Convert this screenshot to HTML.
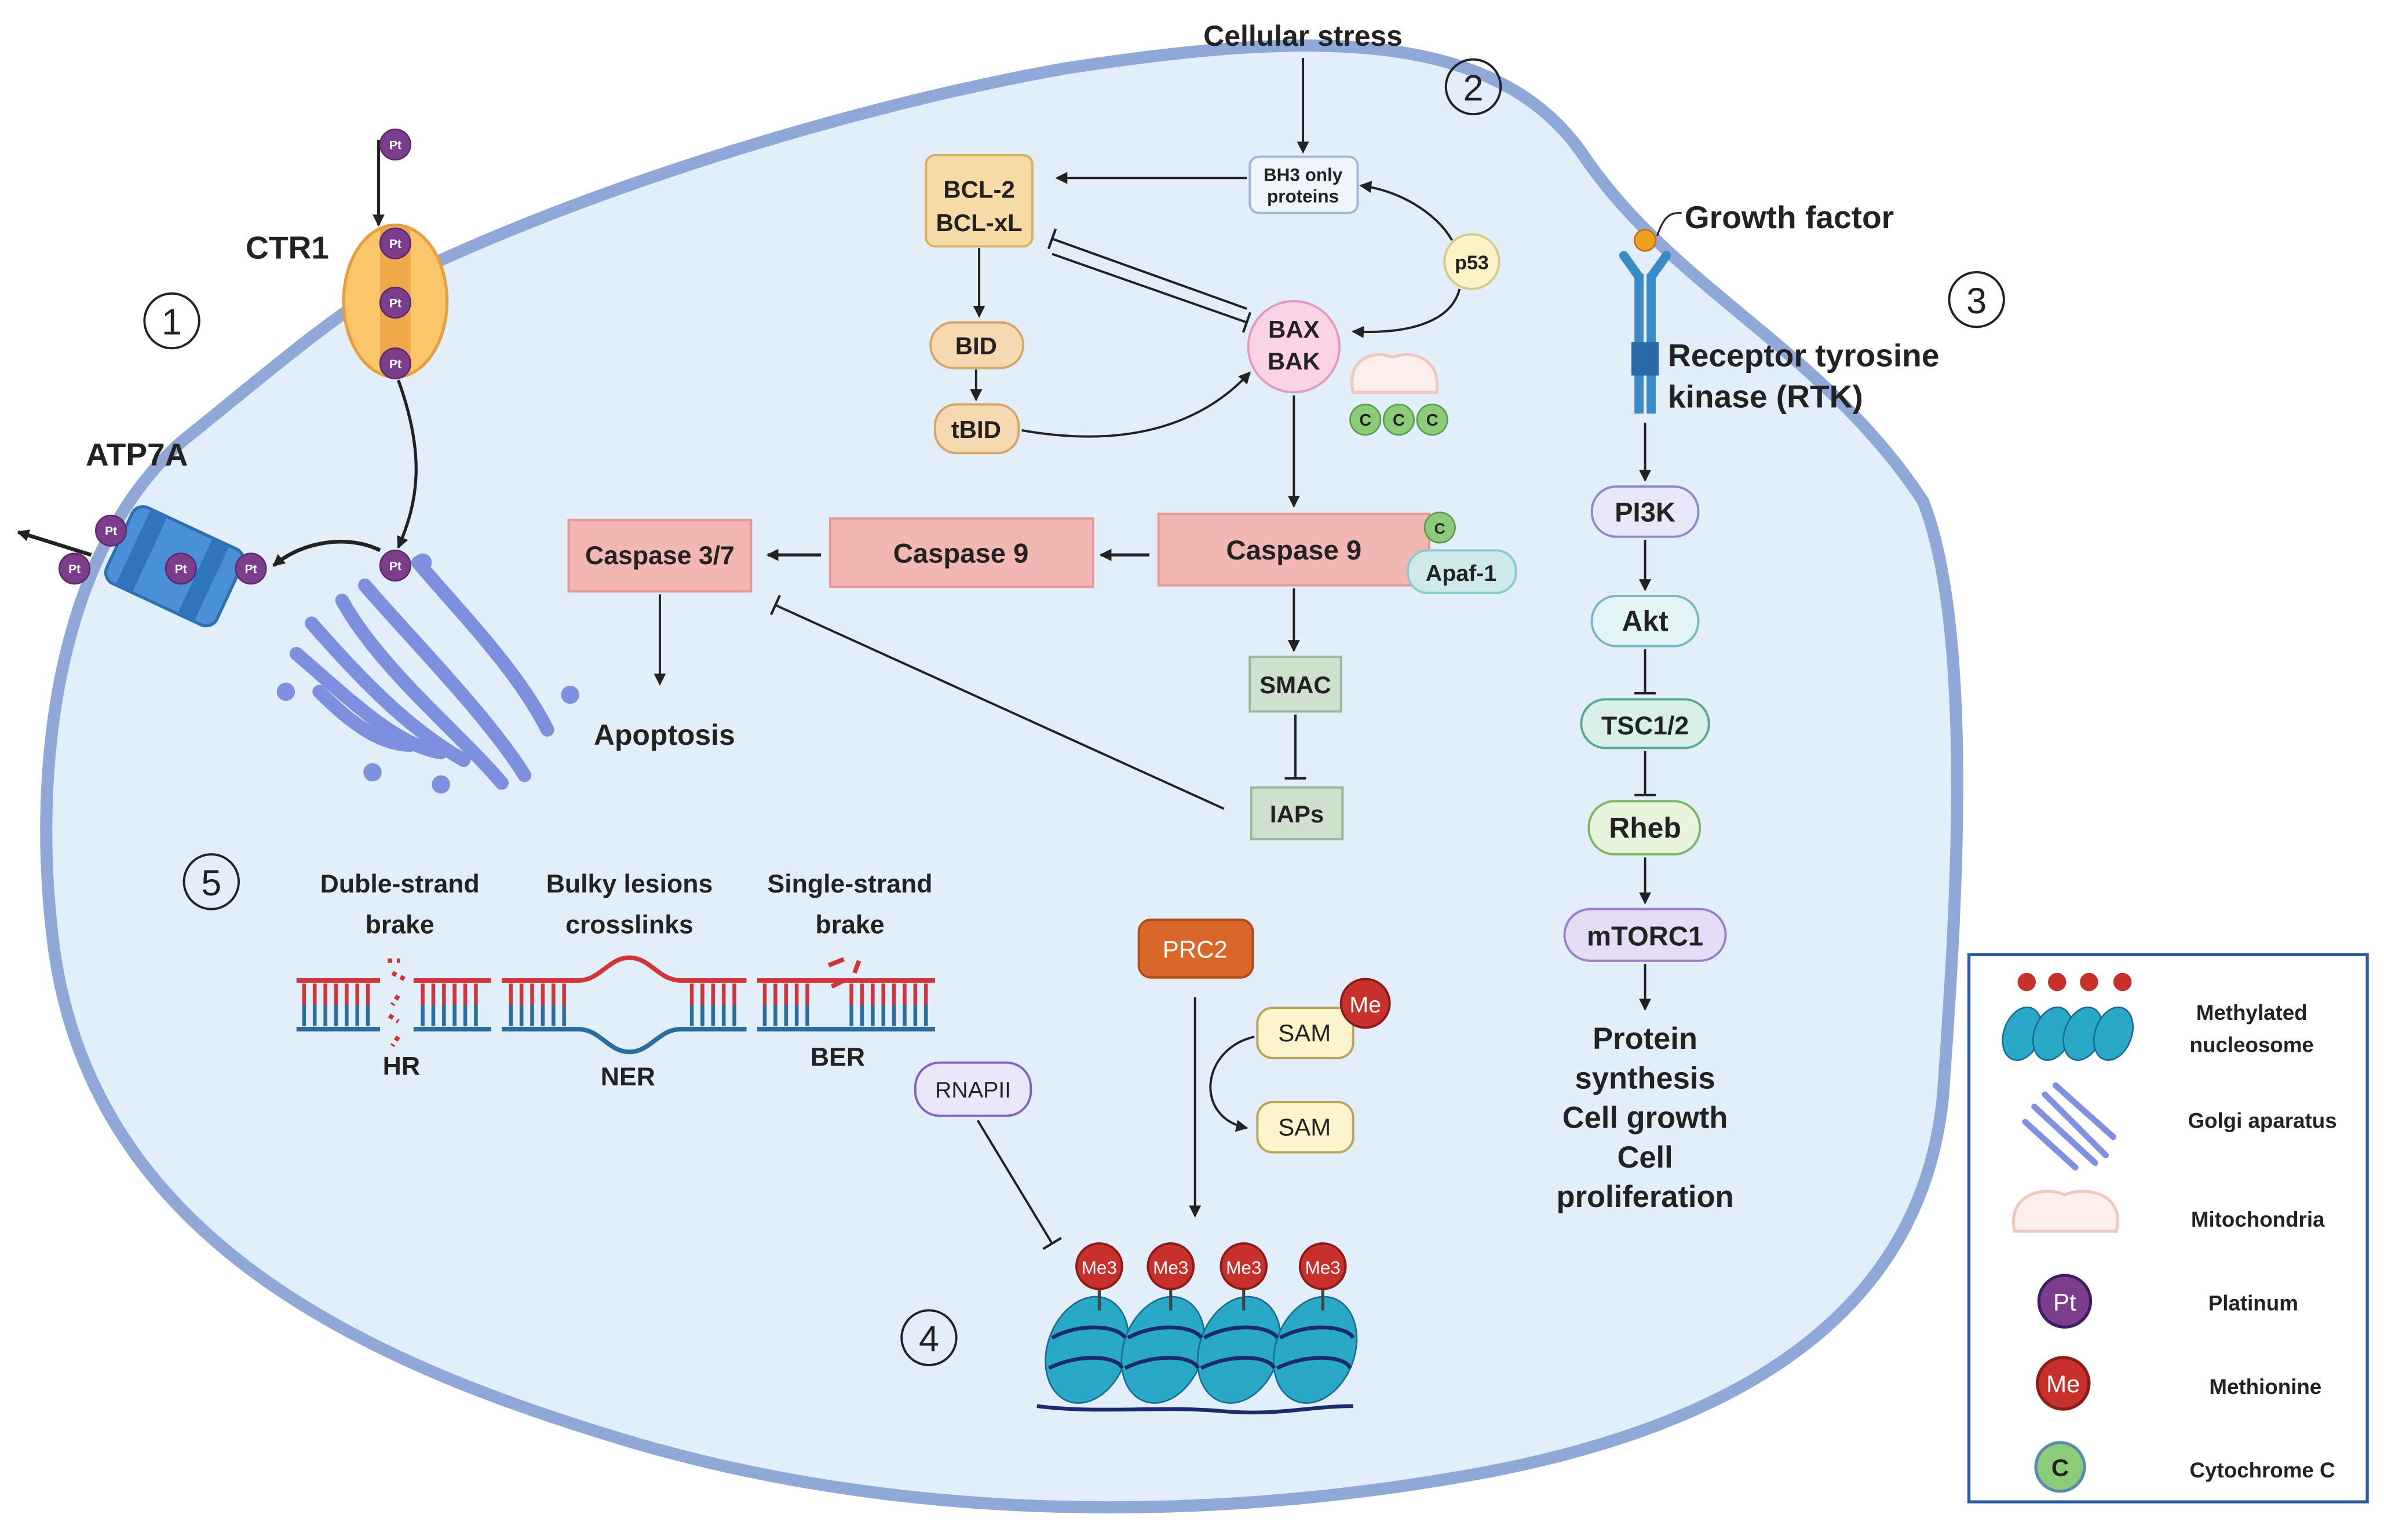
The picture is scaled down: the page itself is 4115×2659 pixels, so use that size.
<!DOCTYPE html>
<html><head><meta charset="utf-8"><style>html,body{margin:0;padding:0;background:#fff}svg{display:block}text{font-family:"Liberation Sans",sans-serif;font-weight:bold;fill:#222}text.n{font-weight:normal}</style></head>
<body>
<svg width="4115" height="2659" viewBox="0 0 1568 1013" xmlns="http://www.w3.org/2000/svg">
<defs>
<marker id="a" markerWidth="8" markerHeight="8" refX="7" refY="4" orient="auto" markerUnits="userSpaceOnUse"><path d="M0,0 L8,4 L0,8 Z" fill="#222"/></marker>
<marker id="t" markerWidth="4" markerHeight="14" refX="2" refY="7" orient="auto" markerUnits="userSpaceOnUse"><path d="M2,0 L2,14" stroke="#222" stroke-width="1.6"/></marker>
</defs>
<path d="M250,190 C380,125 560,70 700,45 C850,22 980,15 1040,100 C1100,190 1200,230 1265,330 C1300,420 1285,620 1278,720 C1265,860 1150,935 980,968 C800,1002 600,1002 420,950 C250,900 60,820 35,620 C20,500 40,360 120,290 C170,250 210,215 250,190 Z" fill="#e2eef9" stroke="#8fa8d8" stroke-width="8"/>
<circle cx="113" cy="211" r="18" fill="none" stroke="#222" stroke-width="1.5"/><text class="n" x="113" y="220" text-anchor="middle" font-size="24">1</text>
<circle cx="969" cy="57" r="18" fill="none" stroke="#222" stroke-width="1.5"/><text class="n" x="969" y="66" text-anchor="middle" font-size="24">2</text>
<circle cx="1300" cy="197" r="18" fill="none" stroke="#222" stroke-width="1.5"/><text class="n" x="1300" y="206" text-anchor="middle" font-size="24">3</text>
<circle cx="611" cy="880" r="18" fill="none" stroke="#222" stroke-width="1.5"/><text class="n" x="611" y="889" text-anchor="middle" font-size="24">4</text>
<circle cx="139" cy="580" r="18" fill="none" stroke="#222" stroke-width="1.5"/><text class="n" x="139" y="589" text-anchor="middle" font-size="24">5</text>
<text x="189" y="170" text-anchor="middle" font-size="21">CTR1</text>
<ellipse cx="260" cy="198" rx="34" ry="50" fill="#fbc56a" stroke="#e2a040" stroke-width="2"/>
<rect x="250" y="150" width="20" height="96" fill="#f0a948"/>
<line x1="249" y1="92" x2="249" y2="148" stroke="#222" stroke-width="2" marker-end="url(#a)"/>
<g>
<circle cx="260" cy="95" r="10" fill="#7d3d8d" stroke="#5a2b68"/><text x="260" y="98" text-anchor="middle" font-size="8" style="fill:#fff">Pt</text>
<circle cx="260" cy="160" r="10" fill="#7d3d8d" stroke="#5a2b68"/><text x="260" y="163" text-anchor="middle" font-size="8" style="fill:#fff">Pt</text>
<circle cx="260" cy="199" r="10" fill="#7d3d8d" stroke="#5a2b68"/><text x="260" y="202" text-anchor="middle" font-size="8" style="fill:#fff">Pt</text>
<circle cx="260" cy="239" r="10" fill="#7d3d8d" stroke="#5a2b68"/><text x="260" y="242" text-anchor="middle" font-size="8" style="fill:#fff">Pt</text>
</g>
<path d="M262,250 C280,300 275,330 262,360" fill="none" stroke="#222" stroke-width="2" marker-end="url(#a)"/>
<path d="M250,362 C230,352 200,355 180,372" fill="none" stroke="#222" stroke-width="2.5" marker-end="url(#a)"/>
<text x="90" y="306" text-anchor="middle" font-size="21">ATP7A</text>
<g transform="rotate(25 115 372)">
<rect x="75" y="345" width="80" height="55" rx="8" fill="#4a90d6" stroke="#2f6fb0" stroke-width="2"/>
<rect x="85" y="345" width="12" height="55" fill="#2f74bd"/><rect x="130" y="345" width="12" height="55" fill="#2f74bd"/>
</g>
<line x1="60" y1="365" x2="12" y2="350" stroke="#222" stroke-width="2.5" marker-end="url(#a)"/>
<g>
<circle cx="73" cy="349" r="10" fill="#7d3d8d" stroke="#5a2b68"/><text x="73" y="352" text-anchor="middle" font-size="8" style="fill:#fff">Pt</text>
<circle cx="49" cy="374" r="10" fill="#7d3d8d" stroke="#5a2b68"/><text x="49" y="377" text-anchor="middle" font-size="8" style="fill:#fff">Pt</text>
<circle cx="119" cy="374" r="10" fill="#7d3d8d" stroke="#5a2b68"/><text x="119" y="377" text-anchor="middle" font-size="8" style="fill:#fff">Pt</text>
<circle cx="165" cy="374" r="10" fill="#7d3d8d" stroke="#5a2b68"/><text x="165" y="377" text-anchor="middle" font-size="8" style="fill:#fff">Pt</text>
<circle cx="260" cy="372" r="10" fill="#7d3d8d" stroke="#5a2b68"/><text x="260" y="375" text-anchor="middle" font-size="8" style="fill:#fff">Pt</text>
</g>
<g fill="none" stroke="#7f8fe0" stroke-width="9" stroke-linecap="round">
<path d="M240,385 C270,420 320,470 345,510"/>
<path d="M225,395 C250,440 300,480 330,515"/>
<path d="M205,410 C240,450 270,480 305,500"/>
<path d="M195,430 C230,460 260,490 290,495"/>
<path d="M275,370 C300,400 340,440 360,480"/>
<path d="M210,455 C230,475 250,490 270,490"/>
</g>
<g fill="#8090e0"><circle cx="278" cy="370" r="6"/><circle cx="188" cy="455" r="6"/><circle cx="375" cy="457" r="6"/><circle cx="245" cy="508" r="6"/><circle cx="290" cy="516" r="6"/></g>
<text x="857" y="30" text-anchor="middle" font-size="19">Cellular stress</text>
<line x1="857" y1="38" x2="857" y2="100" stroke="#222" stroke-width="1.5" marker-end="url(#a)"/>
<rect x="822" y="103" width="71" height="37" rx="6" fill="#f0f4fc" stroke="#a4b4d8" stroke-width="1.5"/>
<text x="857" y="119" text-anchor="middle" font-size="12">BH3 only</text><text x="857" y="133" text-anchor="middle" font-size="12">proteins</text>
<line x1="820" y1="117" x2="695" y2="117" stroke="#222" stroke-width="1.5" marker-end="url(#a)"/>
<rect x="609" y="102" width="70" height="60" rx="6" fill="#f6dba6" stroke="#d8b160" stroke-width="1.5"/>
<text x="644" y="130" text-anchor="middle" font-size="16">BCL-2</text><text x="644" y="152" text-anchor="middle" font-size="16">BCL-xL</text>
<circle cx="968" cy="172" r="18" fill="#fbf3c8" stroke="#d8c98a" stroke-width="1.5"/><text x="968" y="177" text-anchor="middle" font-size="13">p53</text>
<path d="M955,158 C945,140 920,125 895,122" fill="none" stroke="#222" stroke-width="1.5" marker-end="url(#a)"/>
<path d="M960,190 C955,210 930,220 890,218" fill="none" stroke="#222" stroke-width="1.5" marker-end="url(#a)"/>
<circle cx="851" cy="228" r="30" fill="#fad4e6" stroke="#e39ac0" stroke-width="1.5"/>
<text x="851" y="222" text-anchor="middle" font-size="16">BAX</text><text x="851" y="243" text-anchor="middle" font-size="16">BAK</text>
<line x1="820" y1="203" x2="692" y2="157" stroke="#222" stroke-width="1.5" marker-end="url(#t)"/>
<line x1="692" y1="167" x2="820" y2="212" stroke="#222" stroke-width="1.5" marker-end="url(#t)"/>
<line x1="644" y1="163" x2="644" y2="208" stroke="#222" stroke-width="1.5" marker-end="url(#a)"/>
<rect x="612" y="212" width="61" height="30" rx="15" fill="#f6d9b0" stroke="#d6a56a" stroke-width="1.5"/><text x="642" y="233" text-anchor="middle" font-size="16">BID</text>
<line x1="642" y1="243" x2="642" y2="263" stroke="#222" stroke-width="1.5" marker-end="url(#a)"/>
<rect x="615" y="266" width="55" height="32" rx="14" fill="#f6d9b0" stroke="#d6a56a" stroke-width="1.5"/><text x="642" y="288" text-anchor="middle" font-size="16">tBID</text>
<path d="M672,283 C740,295 790,280 822,245" fill="none" stroke="#222" stroke-width="1.5" marker-end="url(#a)"/>
<path d="M890,258 C885,235 905,230 916,235 C928,230 948,235 945,258 Z" fill="#fdf0ec" stroke="#f0c8c0" stroke-width="2"/>
<g><circle cx="898" cy="276" r="10" fill="#8ccc78" stroke="#5a9a50"/><text x="898" y="280" text-anchor="middle" font-size="11">C</text>
<circle cx="920" cy="276" r="10" fill="#8ccc78" stroke="#5a9a50"/><text x="920" y="280" text-anchor="middle" font-size="11">C</text>
<circle cx="942" cy="276" r="10" fill="#8ccc78" stroke="#5a9a50"/><text x="942" y="280" text-anchor="middle" font-size="11">C</text></g>
<line x1="851" y1="260" x2="851" y2="333" stroke="#222" stroke-width="1.5" marker-end="url(#a)"/>
<rect x="762" y="338" width="178" height="47" fill="#f3b7b3" stroke="#e59a95" stroke-width="1.5"/><text x="851" y="368" text-anchor="middle" font-size="18">Caspase 9</text>
<rect x="926" y="362" width="71" height="28" rx="13" fill="#cfe9ea" stroke="#8cc" stroke-width="1.5"/><text x="961" y="382" text-anchor="middle" font-size="15">Apaf-1</text>
<circle cx="947" cy="347" r="10" fill="#8ccc78" stroke="#5a9a50"/><text x="947" y="351" text-anchor="middle" font-size="10">C</text>
<line x1="756" y1="365" x2="724" y2="365" stroke="#222" stroke-width="2" marker-end="url(#a)"/>
<rect x="546" y="341" width="173" height="45" fill="#f3b7b3" stroke="#e59a95" stroke-width="1.5"/><text x="632" y="370" text-anchor="middle" font-size="18">Caspase 9</text>
<line x1="540" y1="365" x2="505" y2="365" stroke="#222" stroke-width="2" marker-end="url(#a)"/>
<rect x="374" y="342" width="120" height="47" fill="#f3b7b3" stroke="#e59a95" stroke-width="1.5"/><text x="434" y="371" text-anchor="middle" font-size="17">Caspase 3/7</text>
<line x1="434" y1="391" x2="434" y2="450" stroke="#222" stroke-width="1.5" marker-end="url(#a)"/>
<text x="437" y="490" text-anchor="middle" font-size="19">Apoptosis</text>
<line x1="851" y1="387" x2="851" y2="428" stroke="#222" stroke-width="1.5" marker-end="url(#a)"/>
<rect x="822" y="432" width="60" height="36" fill="#cfe0cd" stroke="#9bb89a" stroke-width="1.5"/><text x="852" y="456" text-anchor="middle" font-size="16">SMAC</text>
<line x1="852" y1="470" x2="852" y2="512" stroke="#222" stroke-width="1.5" marker-end="url(#t)"/>
<rect x="823" y="518" width="60" height="34" fill="#cfe0cd" stroke="#9bb89a" stroke-width="1.5"/><text x="853" y="541" text-anchor="middle" font-size="16">IAPs</text>
<line x1="805" y1="532" x2="510" y2="398" stroke="#222" stroke-width="1.5" marker-end="url(#t)"/>
<circle cx="1082" cy="158" r="7" fill="#f0a020" stroke="#c07010"/>
<path d="M1090,155 C1095,140 1100,140 1106,140" fill="none" stroke="#222" stroke-width="1.2"/>
<text x="1108" y="150" font-size="21">Growth factor</text>
<path d="M1068,168 L1078,182 M1096,168 L1086,182" stroke="#3a8ac8" stroke-width="6" stroke-linecap="round"/>
<rect x="1075" y="180" width="6" height="92" fill="#3a8ac8"/><rect x="1083" y="180" width="6" height="92" fill="#3a8ac8"/>
<rect x="1073" y="225" width="18" height="22" fill="#2a6aa8"/>
<text x="1097" y="241" font-size="21">Receptor tyrosine</text><text x="1097" y="268" font-size="21">kinase (RTK)</text>
<line x1="1082" y1="278" x2="1082" y2="316" stroke="#222" stroke-width="1.5" marker-end="url(#a)"/>
<rect x="1047" y="320" width="70" height="33" rx="16" fill="#e8e8fa" stroke="#8a8ad0" stroke-width="1.5"/><text x="1082" y="343" text-anchor="middle" font-size="18">PI3K</text>
<line x1="1082" y1="355" x2="1082" y2="388" stroke="#222" stroke-width="1.5" marker-end="url(#a)"/>
<rect x="1047" y="392" width="70" height="33" rx="16" fill="#e3f4f6" stroke="#7bb8c4" stroke-width="1.5"/><text x="1082" y="415" text-anchor="middle" font-size="19">Akt</text>
<line x1="1082" y1="427" x2="1082" y2="456" stroke="#222" stroke-width="1.5" marker-end="url(#t)"/>
<rect x="1040" y="460" width="84" height="32" rx="16" fill="#d9f0ea" stroke="#5aa890" stroke-width="1.5"/><text x="1082" y="483" text-anchor="middle" font-size="17">TSC1/2</text>
<line x1="1082" y1="494" x2="1082" y2="523" stroke="#222" stroke-width="1.5" marker-end="url(#t)"/>
<rect x="1045" y="527" width="73" height="35" rx="17" fill="#e6f5dc" stroke="#7bb866" stroke-width="1.5"/><text x="1082" y="551" text-anchor="middle" font-size="19">Rheb</text>
<line x1="1082" y1="564" x2="1082" y2="594" stroke="#222" stroke-width="1.5" marker-end="url(#a)"/>
<rect x="1029" y="598" width="106" height="34" rx="17" fill="#e5dcf5" stroke="#9a80cc" stroke-width="1.5"/><text x="1082" y="622" text-anchor="middle" font-size="18">mTORC1</text>
<line x1="1082" y1="634" x2="1082" y2="664" stroke="#222" stroke-width="1.5" marker-end="url(#a)"/>
<text x="1082" y="690" text-anchor="middle" font-size="20">Protein</text><text x="1082" y="716" text-anchor="middle" font-size="20">synthesis</text><text x="1082" y="742" text-anchor="middle" font-size="20">Cell growth</text><text x="1082" y="768" text-anchor="middle" font-size="20">Cell</text><text x="1082" y="794" text-anchor="middle" font-size="20">proliferation</text>
<text x="263" y="587" text-anchor="middle" font-size="17">Duble-strand</text><text x="263" y="614" text-anchor="middle" font-size="17">brake</text>
<text x="414" y="587" text-anchor="middle" font-size="17">Bulky lesions</text><text x="414" y="614" text-anchor="middle" font-size="17">crosslinks</text>
<text x="559" y="587" text-anchor="middle" font-size="17">Single-strand</text><text x="559" y="614" text-anchor="middle" font-size="17">brake</text>
<g stroke-width="3">
<line x1="195" y1="645" x2="250" y2="645" stroke="#d0353a"/><line x1="272" y1="645" x2="323" y2="645" stroke="#d0353a"/>
<line x1="195" y1="677" x2="250" y2="677" stroke="#2a6ea0"/><line x1="272" y1="677" x2="323" y2="677" stroke="#2a6ea0"/>
<path d="M330,645 L380,645 C395,645 400,630 414,630 C428,630 433,645 448,645 L491,645" fill="none" stroke="#d0353a"/>
<path d="M330,677 L380,677 C395,677 400,692 414,692 C428,692 433,677 448,677 L491,677" fill="none" stroke="#2a6ea0"/>
<line x1="498" y1="645" x2="615" y2="645" stroke="#d0353a"/><line x1="498" y1="677" x2="615" y2="677" stroke="#2a6ea0"/>
</g>
<g stroke-width="2.5">
<path d="M200,647 V661 M207,647 V661 M214,647 V661 M221,647 V661 M228,647 V661 M235,647 V661 M242,647 V661 M278,647 V661 M285,647 V661 M292,647 V661 M299,647 V661 M306,647 V661 M313,647 V661 M336,647 V661 M343,647 V661 M350,647 V661 M357,647 V661 M364,647 V661 M371,647 V661 M455,647 V661 M462,647 V661 M469,647 V661 M476,647 V661 M483,647 V661 M503,647 V661 M510,647 V661 M517,647 V661 M524,647 V661 M531,647 V661 M560,647 V661 M567,647 V661 M574,647 V661 M581,647 V661 M588,647 V661 M595,647 V661 M602,647 V661 M609,647 V661" stroke="#d0353a"/>
<path d="M200,661 V675 M207,661 V675 M214,661 V675 M221,661 V675 M228,661 V675 M235,661 V675 M242,661 V675 M278,661 V675 M285,661 V675 M292,661 V675 M299,661 V675 M306,661 V675 M313,661 V675 M336,661 V675 M343,661 V675 M350,661 V675 M357,661 V675 M364,661 V675 M371,661 V675 M455,661 V675 M462,661 V675 M469,661 V675 M476,661 V675 M483,661 V675 M503,661 V675 M510,661 V675 M517,661 V675 M524,661 V675 M531,661 V675 M560,661 V675 M567,661 V675 M574,661 V675 M581,661 V675 M588,661 V675 M595,661 V675 M602,661 V675 M609,661 V675" stroke="#2a6ea0"/>
</g>
<path d="M255,632 l8,0 M258,640 l8,4 M262,655 l-4,6 M256,668 l6,4 M262,682 l-4,6" stroke="#d0353a" stroke-width="3" stroke-dasharray="3 3"/>
<path d="M545,635 l10,-4 M555,645 l-8,4 M565,632 l-3,8" stroke="#d0353a" stroke-width="3"/>
<text x="264" y="707" text-anchor="middle" font-size="17">HR</text>
<text x="413" y="714" text-anchor="middle" font-size="17">NER</text>
<text x="551" y="701" text-anchor="middle" font-size="17">BER</text>
<rect x="749" y="605" width="75" height="38" rx="8" fill="#d9672a" stroke="#b04c18" stroke-width="1.5"/><text class="n" x="786" y="630" text-anchor="middle" font-size="16" style="fill:#fff">PRC2</text>
<line x1="786" y1="656" x2="786" y2="800" stroke="#222" stroke-width="1.5" marker-end="url(#a)"/>
<rect x="827" y="663" width="63" height="33" rx="10" fill="#fbf4cc" stroke="#b9a45a" stroke-width="1.5"/><text class="n" x="858" y="685" text-anchor="middle" font-size="16">SAM</text>
<circle cx="898" cy="660" r="16" fill="#c8302c" stroke="#8a1d1a" stroke-width="1.5"/><text class="n" x="898" y="666" text-anchor="middle" font-size="15" style="fill:#fff">Me</text>
<path d="M825,682 C790,690 785,735 820,742" fill="none" stroke="#222" stroke-width="1.5" marker-end="url(#a)"/>
<rect x="827" y="725" width="63" height="33" rx="10" fill="#fbf4cc" stroke="#b9a45a" stroke-width="1.5"/><text class="n" x="858" y="747" text-anchor="middle" font-size="16">SAM</text>
<rect x="602" y="699" width="76" height="35" rx="16" fill="#ece6fa" stroke="#7f64c0" stroke-width="1.5"/><text class="n" x="640" y="722" text-anchor="middle" font-size="15">RNAPII</text>
<line x1="643" y1="737" x2="692" y2="818" stroke="#222" stroke-width="1.5" marker-end="url(#t)"/>
<g>
<path d="M682,925 C720,930 760,925 800,928 C840,932 860,925 890,925" fill="none" stroke="#1a2a6a" stroke-width="2.5"/>
<g fill="#2aa8c8" stroke="#1a6a90" stroke-width="1">
<ellipse cx="715" cy="888" rx="26" ry="36" transform="rotate(20 715 888)"/>
<ellipse cx="765" cy="888" rx="26" ry="36" transform="rotate(20 765 888)"/>
<ellipse cx="815" cy="888" rx="26" ry="36" transform="rotate(20 815 888)"/>
<ellipse cx="865" cy="888" rx="26" ry="36" transform="rotate(20 865 888)"/>
</g>
<g stroke="#1a2a6a" stroke-width="2.5" fill="none">
<path d="M692,880 C710,870 735,872 740,880 M690,900 C710,890 735,892 738,900"/>
<path d="M742,880 C760,870 785,872 790,880 M740,900 C760,890 785,892 788,900"/>
<path d="M792,880 C810,870 835,872 840,880 M790,900 C810,890 835,892 838,900"/>
<path d="M842,880 C860,870 885,872 890,880 M840,900 C860,890 885,892 888,900"/>
</g>
<g stroke="#444" stroke-width="2"><line x1="723" y1="845" x2="723" y2="862"/><line x1="770" y1="845" x2="770" y2="862"/><line x1="818" y1="845" x2="818" y2="862"/><line x1="870" y1="845" x2="870" y2="862"/></g>
<g fill="#c8302c" stroke="#8a1d1a" stroke-width="1.5">
<circle cx="723" cy="833" r="15"/><circle cx="770" cy="833" r="15"/><circle cx="818" cy="833" r="15"/><circle cx="870" cy="833" r="15"/></g>
<text class="n" x="723" y="838" text-anchor="middle" font-size="12" style="fill:#fff">Me3</text><text class="n" x="770" y="838" text-anchor="middle" font-size="12" style="fill:#fff">Me3</text><text class="n" x="818" y="838" text-anchor="middle" font-size="12" style="fill:#fff">Me3</text><text class="n" x="870" y="838" text-anchor="middle" font-size="12" style="fill:#fff">Me3</text>
</g>
<rect x="1295" y="628" width="262" height="360" fill="#fff" stroke="#2a5aa0" stroke-width="2"/>
<g fill="#2aa8c8" stroke="#1a6a90"><ellipse cx="1330" cy="680" rx="12" ry="18" transform="rotate(20 1330 680)"/><ellipse cx="1350" cy="680" rx="12" ry="18" transform="rotate(20 1350 680)"/><ellipse cx="1370" cy="680" rx="12" ry="18" transform="rotate(20 1370 680)"/><ellipse cx="1390" cy="680" rx="12" ry="18" transform="rotate(20 1390 680)"/></g>
<g fill="#c8302c"><circle cx="1333" cy="646" r="6"/><circle cx="1353" cy="646" r="6"/><circle cx="1374" cy="646" r="6"/><circle cx="1396" cy="646" r="6"/></g>
<g stroke="#8090e0" stroke-width="4" fill="none" stroke-linecap="round"><path d="M1345,720 L1385,760 M1338,728 L1378,765 M1332,738 L1365,768 M1352,714 L1390,748"/></g>
<path d="M1325,810 C1320,785 1345,780 1358,786 C1372,780 1398,785 1392,810 Z" fill="#fdf0ec" stroke="#f0c8c0" stroke-width="2"/>
<circle cx="1358" cy="856" r="17" fill="#7d3d8d" stroke="#3a2060" stroke-width="2"/><text class="n" x="1358" y="862" text-anchor="middle" font-size="16" style="fill:#fff">Pt</text>
<circle cx="1357" cy="910" r="17" fill="#c8302c" stroke="#8a1d1a" stroke-width="2"/><text class="n" x="1357" y="916" text-anchor="middle" font-size="16" style="fill:#fff">Me</text>
<circle cx="1355" cy="965" r="16" fill="#8ccc78" stroke="#5a8ab0" stroke-width="2"/><text x="1355" y="971" text-anchor="middle" font-size="16">C</text>
<text x="1481" y="671" text-anchor="middle" font-size="14">Methylated</text><text x="1481" y="692" text-anchor="middle" font-size="14">nucleosome</text>
<text x="1488" y="742" text-anchor="middle" font-size="14">Golgi aparatus</text>
<text x="1485" y="807" text-anchor="middle" font-size="14">Mitochondria</text>
<text x="1482" y="862" text-anchor="middle" font-size="14">Platinum</text>
<text x="1490" y="917" text-anchor="middle" font-size="14">Methionine</text>
<text x="1488" y="972" text-anchor="middle" font-size="14">Cytochrome C</text>
</svg>
</body></html>
